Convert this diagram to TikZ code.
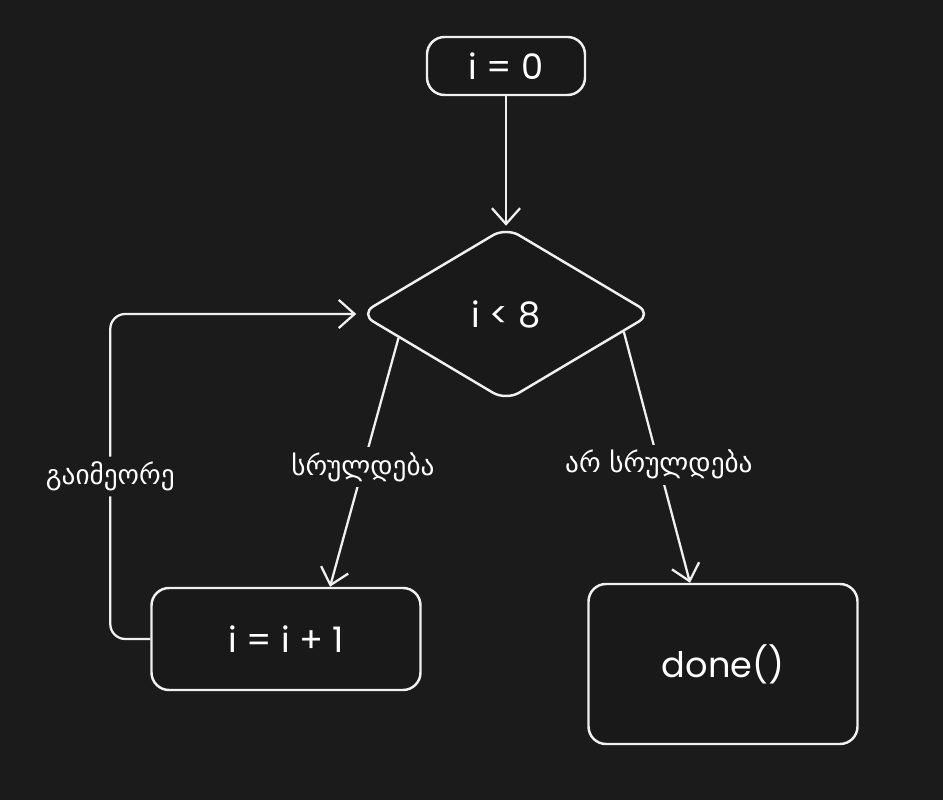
\documentclass[tikz,border=0pt]{standalone}
\usepackage{fontspec}
\setmainfont{Poppins}
\newfontfamily\geofont{DejaVu Sans}
\usetikzlibrary{arrows.meta,shapes.geometric,calc}
\definecolor{bgcol}{HTML}{1B1B1B}
\definecolor{boxcol}{HTML}{191919}
\definecolor{inkcol}{HTML}{F0F0F0}
\tikzset{
  box/.style={draw=inkcol,fill=boxcol,line width=1.4pt,rounded corners=0.35cm,
    text=white,font=\fontsize{20}{24}\selectfont},
  cond/.style={diamond,draw=inkcol,fill=boxcol,line width=1.4pt,rounded corners=0.3cm,
    inner sep=0pt,minimum width=5.84cm,minimum height=3.48cm,
    text=white,font=\fontsize{20}{24}\selectfont},
  flow/.style={draw=inkcol,line width=1.3pt,-{Straight Barb[length=9pt,width=16pt]}},
  lbl/.style={fill=bgcol,text=white,font=\geofont\fontsize{15.5}{18}\selectfont,inner sep=3pt}
}

\begin{document}
\begin{tikzpicture}
\fill[bgcol] (0,0) rectangle (18.86,16);
\useasboundingbox (0,0) rectangle (18.86,16);

\node[box,minimum width=3.16cm,minimum height=1.16cm] (init) at (10.12,14.68) {i = 0};
\node[cond] (test) at (10.12,9.72) {i < 8};
\node[box,minimum width=5.38cm,minimum height=2.04cm] (incr) at (5.72,3.22) {i = i + 1};
\node[box,minimum width=5.38cm,minimum height=3.2cm] (done) at (14.46,2.72) {done()};

\draw[flow] (init) -- (test);
\draw[flow] ($(test.west)!0.27!(test.south)$) -- node[lbl,pos=0.52] {სრულდება} ([xshift=0.88cm]incr.north);
\draw[flow] ($(test.east)!0.2!(test.south)$) -- node[lbl,pos=0.53] {არ სრულდება} ([xshift=-0.66cm]done.north);
\draw[flow,rounded corners=0.3cm] (incr.west) -- ++(-0.8,0) |- node[lbl,pos=0.25] {გაიმეორე} ([xshift=-0.05cm]test.west);
\end{tikzpicture}
\end{document}
